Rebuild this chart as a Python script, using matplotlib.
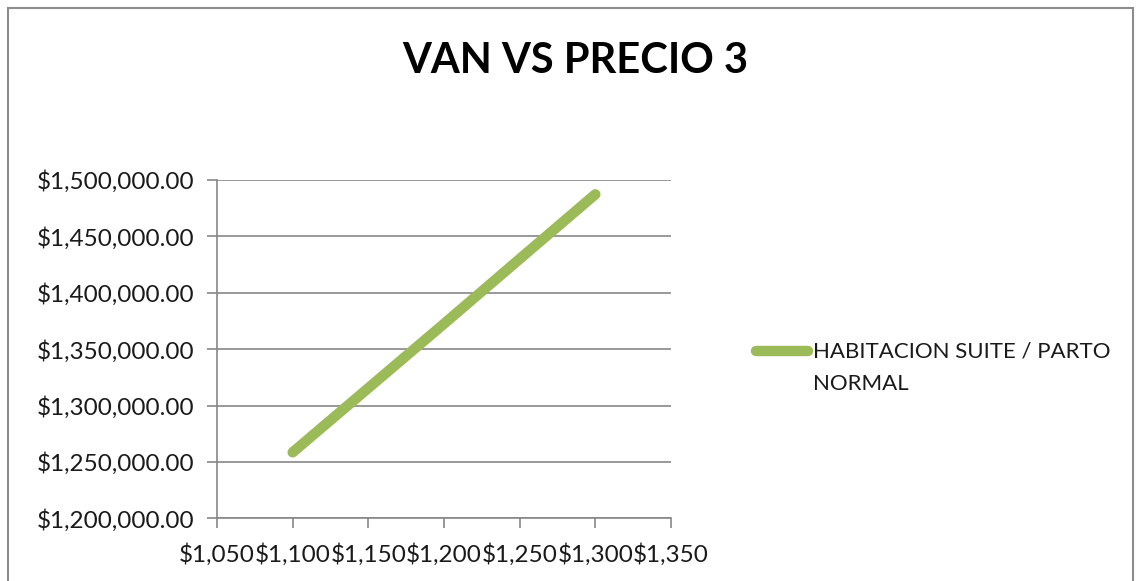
import matplotlib.pyplot as plt
from matplotlib.lines import Line2D
from matplotlib.patches import Rectangle
from matplotlib.ticker import FuncFormatter

# data
precio = [1100, 1150, 1200, 1250, 1300]
van = [1258500, 1315500, 1372500, 1430000, 1487300]
x_ticks = [1050, 1100, 1150, 1200, 1250, 1300, 1350]
y_ticks = [1200000, 1250000, 1300000, 1350000, 1400000, 1450000, 1500000]
serie = "HABITACION SUITE / PARTO\nNORMAL"

plt.rcParams['font.family'] = ['Lato', 'DejaVu Sans']

fig = plt.figure(figsize=(11.39, 5.81), dpi=100)
W, H = 1139, 581
ax = fig.add_axes([217 / W, 1 - 518.3 / H, (671 - 217) / W, (518.3 - 180) / H])

green = '#9BBB59'
grid_c = '#878787'

ax.plot(precio, van, color=green, lw=7.5, solid_capstyle='round', zorder=3)

ax.set_xlim(1050, 1350)
ax.set_ylim(1200000, 1500000)
ax.set_xticks(x_ticks)
ax.set_yticks(y_ticks)
ax.xaxis.set_major_formatter(FuncFormatter(lambda v, p: f"${v:,.0f}"))
ax.yaxis.set_major_formatter(FuncFormatter(lambda v, p: f"${v:,.2f}"))
ax.tick_params(axis='both', labelsize=17.5, colors=grid_c, labelcolor='#1a1a1a',
               length=7, width=1.2, direction='out')
ax.tick_params(axis='y', pad=9)
ax.tick_params(axis='x', pad=11)
ax.grid(axis='y', color=grid_c, lw=1.2)
ax.set_axisbelow(True)
for s in ['top', 'right']:
    ax.spines[s].set_visible(False)
for s in ['left', 'bottom']:
    ax.spines[s].set_color(grid_c)
    ax.spines[s].set_linewidth(1.2)

fig.text(575 / W, 1 - 61 / H, "VAN VS PRECIO 3", ha='center', va='center',
         fontsize=30, fontweight='bold')

# legend drawn by hand, Excel style
fig.add_artist(Line2D([756 / W, 808 / W], [1 - 351 / H, 1 - 351 / H],
                      color=green, lw=7.5, solid_capstyle='round'))
fig.text(813 / W, 1 - 341 / H, serie, ha='left', va='top', fontsize=16,
         linespacing=1.8, color='#1a1a1a')

# chart border
fig.add_artist(Rectangle((8 / W, -0.05), (1133 - 8) / W, 1 - 8 / H + 0.05,
                         transform=fig.transFigure, fill=False,
                         edgecolor='#8c8c8c', lw=1.5))

fig.savefig('out.png', dpi=100)
